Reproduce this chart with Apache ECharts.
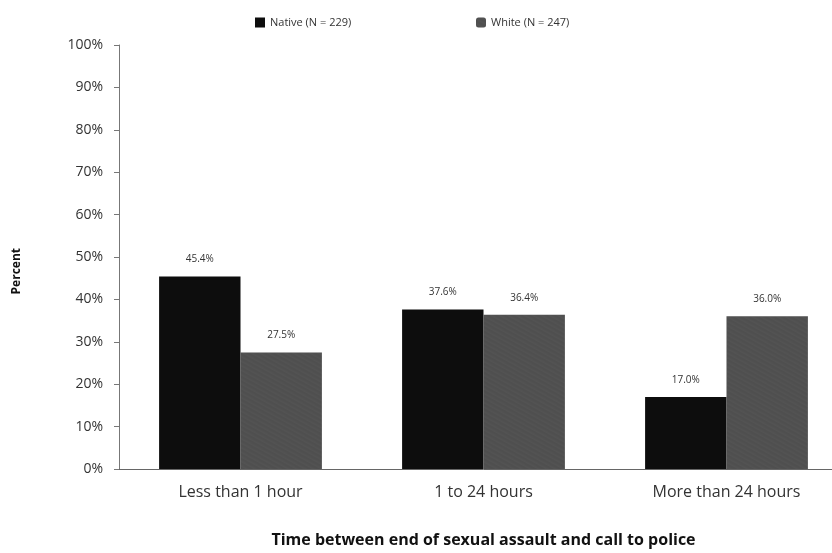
<!DOCTYPE html>
<html><head><meta charset="utf-8">
<script src="https://cdn.jsdelivr.net/npm/echarts@6/dist/echarts.min.js"></script>
<style>html,body{margin:0;padding:0;background:#fff;overflow:hidden}#c{width:852px;height:553px}</style>
</head><body><div id="c"></div>
<script>
const categories = ["Less than 1 hour", "1 to 24 hours", "More than 24 hours"];
const nativeValues = [45.4, 37.6, 17.0];
const whiteValues = [27.5, 36.4, 36.0];
const yTicks = [0, 10, 20, 30, 40, 50, 60, 70, 80, 90, 100];

const chart = echarts.init(document.getElementById('c'));
const font = '"Open Sans", "DejaVu Sans", sans-serif';
const legendText = {fontSize: 11, color: '#333', fontFamily: font};
chart.setOption({
  animation: false,
  textStyle: {fontFamily: font},
  legend: [
    {top: 12, left: 250, itemWidth: 10, itemHeight: 10, itemGap: 4, textStyle: legendText,
     data: [{name: 'Native (N = 229)', icon: 'rect'}]},
    {top: 12, left: 471, itemWidth: 10, itemHeight: 10, itemGap: 4, textStyle: legendText,
     data: [{name: 'White (N = 247)', icon: 'roundRect'}]}
  ],
  graphic: [{
    type: 'text', left: 11, top: 248, rotation: Math.PI / 2,
    style: {text: 'Percent', font: 'bold 12px ' + font, fill: '#111'}
  }],
  grid: {left: 119, top: 45, width: 729, height: 424, containLabel: false},
  xAxis: {
    type: 'category', data: categories,
    axisLine: {lineStyle: {color: '#666', width: 1}},
    axisTick: {show: false},
    axisLabel: {fontSize: 16, color: '#333', margin: 15, fontFamily: font},
    name: 'Time between end of sexual assault and call to police',
    nameLocation: 'middle', nameGap: 63,
    nameTextStyle: {fontSize: 16, fontWeight: 'bold', color: '#111', fontFamily: font}
  },
  yAxis: {
    type: 'value', min: 0, max: 100, interval: 10,
    axisLine: {show: true, lineStyle: {color: '#777', width: 1}},
    axisTick: {show: true, length: 5, lineStyle: {color: '#777'}},
    splitLine: {show: false},
    axisLabel: {fontSize: 14, color: '#333', margin: 16, fontFamily: font,
      formatter: v => yTicks.includes(v) ? v + '%' : ''}
  },
  series: [
    {name: 'Native (N = 229)', type: 'bar', data: nativeValues, barGap: '0%', barCategoryGap: '33%',
     itemStyle: {color: '#0d0d0d'},
     label: {show: true, position: 'top', distance: 12, fontSize: 10, color: '#333', formatter: p => p.value.toFixed(1) + '%'}},
    {name: 'White (N = 247)', type: 'bar', data: whiteValues,
     itemStyle: {color: '#4f4f4f', decal: {symbol: 'circle', symbolSize: 0.6, color: 'rgba(150,150,150,0.45)', dashArrayX: [1, 0], dashArrayY: [2, 2], rotation: 0.5}},
     label: {show: true, position: 'top', distance: 12, fontSize: 10, color: '#333', formatter: p => p.value.toFixed(1) + '%'}}
  ]
});
</script></body></html>
